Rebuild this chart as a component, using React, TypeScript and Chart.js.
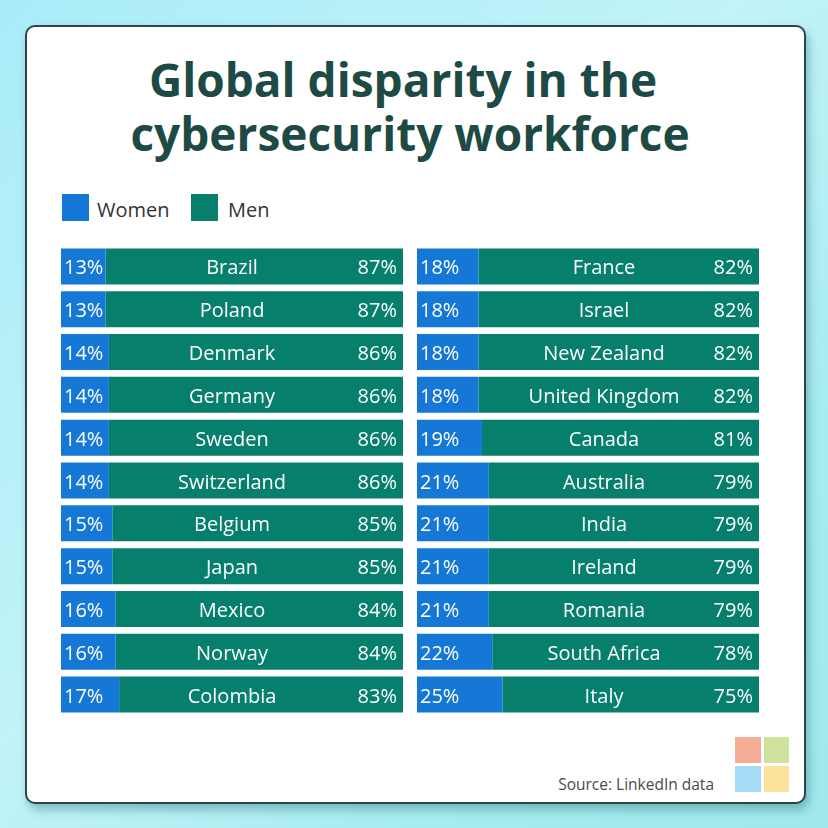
import React, { useEffect, useRef } from "react";
import { Chart, registerables } from "chart.js";

Chart.register(...registerables);

const leftCountries = ["Brazil", "Poland", "Denmark", "Germany", "Sweden", "Switzerland", "Belgium", "Japan", "Mexico", "Norway", "Colombia"];
const leftWomen = [13, 13, 14, 14, 14, 14, 15, 15, 16, 16, 17];
const leftMen = [87, 87, 86, 86, 86, 86, 85, 85, 84, 84, 83];

const rightCountries = ["France", "Israel", "New Zealand", "United Kingdom", "Canada", "Australia", "India", "Ireland", "Romania", "South Africa", "Italy"];
const rightWomen = [18, 18, 18, 18, 19, 21, 21, 21, 21, 22, 25];
const rightMen = [82, 82, 82, 82, 81, 79, 79, 79, 79, 78, 75];

const BLUE = "#1678d6";
const GREEN = "#077f6d";
const FONT = "'Open Sans', 'Noto Sans', sans-serif";

const makeLabelPlugin = (nameOffset: number) => ({
  id: "rowLabels",
  afterDatasetsDraw(chart: any) {
    const ctx = chart.ctx;
    const area = chart.chartArea;
    const labels = chart.data.labels as string[];
    const w = chart.data.datasets[0].data as number[];
    const m = chart.data.datasets[1].data as number[];
    const meta = chart.getDatasetMeta(0);
    ctx.save();
    ctx.fillStyle = "#ffffff";
    ctx.font = `20px ${FONT}`;
    ctx.textBaseline = "alphabetic";
    labels.forEach((name, i) => {
      const y = meta.data[i].y + 8;
      ctx.textAlign = "left";
      ctx.fillText(`${w[i]}%`, area.left + 3, y);
      ctx.textAlign = "center";
      ctx.fillText(name, (area.left + area.right) / 2 + nameOffset, y);
      ctx.textAlign = "right";
      ctx.fillText(`${m[i]}%`, area.right - 6, y);
    });
    ctx.restore();
  },
});

function BarBlock({ countries, women, men, left, nameOffset }: { countries: string[]; women: number[]; men: number[]; left: number; nameOffset: number }) {
  const ref = useRef<HTMLCanvasElement>(null);
  useEffect(() => {
    if (!ref.current) return;
    const chart = new Chart(ref.current, {
      type: "bar",
      data: {
        labels: countries,
        datasets: [
          { label: "Women", data: women, backgroundColor: BLUE, borderWidth: 0, barPercentage: 36 / 42.8, categoryPercentage: 1 },
          { label: "Men", data: men, backgroundColor: GREEN, borderWidth: 0, barPercentage: 36 / 42.8, categoryPercentage: 1 },
        ],
      },
      options: {
        indexAxis: "y",
        animation: false,
        responsive: false,
        maintainAspectRatio: false,
        devicePixelRatio: 1,
        layout: { padding: 0 },
        scales: {
          x: { stacked: true, min: 0, max: 100, display: false },
          y: { stacked: true, display: false },
        },
        plugins: { legend: { display: false }, tooltip: { enabled: false } },
      },
      plugins: [makeLabelPlugin(nameOffset)],
    } as any);
    return () => chart.destroy();
  }, []);
  return (
    <canvas
      ref={ref}
      width={342}
      height={471}
      style={{ position: "absolute", left, top: 245, width: 342, height: 471 }}
    />
  );
}

export default function App() {
  return (
    <div
      style={{
        position: "fixed",
        left: 0,
        top: 0,
        width: 828,
        height: 828,
        overflow: "hidden",
        background: "linear-gradient(135deg, #a9ecf8 0%, #c2f3f8 45%, #a6ecf0 75%, #9fe8ec 100%)",
        fontFamily: FONT,
      }}
    >
      <div
        style={{
          position: "absolute",
          left: 25,
          top: 25,
          width: 781,
          height: 779,
          boxSizing: "border-box",
          border: "2px solid #2b4648",
          borderRadius: 10,
          background: "#ffffff",
          boxShadow: "3px 6px 10px rgba(20,90,100,0.35)",
        }}
      />
      <div style={{ position: "absolute", left: 0, width: 806, top: 56, fontSize: 46, lineHeight: "46px", fontWeight: 700, color: "#1e4a45", textAlign: "center", whiteSpace: "nowrap" }}>
        Global disparity in the
      </div>
      <div style={{ position: "absolute", left: 0, width: 820, top: 110, fontSize: 46, lineHeight: "46px", fontWeight: 700, color: "#1e4a45", textAlign: "center", whiteSpace: "nowrap" }}>
        cybersecurity workforce
      </div>

      <div style={{ position: "absolute", left: 62, top: 194, width: 27, height: 27, background: BLUE }} />
      <div style={{ position: "absolute", left: 97, top: 200, fontSize: 20, lineHeight: "20px", color: "#333333" }}>Women</div>
      <div style={{ position: "absolute", left: 191, top: 194, width: 27, height: 27, background: GREEN }} />
      <div style={{ position: "absolute", left: 228, top: 200, fontSize: 20, lineHeight: "20px", color: "#333333" }}>Men</div>

      <BarBlock countries={leftCountries} women={leftWomen} men={leftMen} left={61} nameOffset={0} />
      <BarBlock countries={rightCountries} women={rightWomen} men={rightMen} left={417} nameOffset={16} />

      <div style={{ position: "absolute", right: 114, top: 776, fontSize: 15.5, lineHeight: "16px", color: "#4a4a4a", whiteSpace: "nowrap" }}>
        Source: LinkedIn data
      </div>

      <div style={{ position: "absolute", left: 735, top: 737, width: 26, height: 26, background: "#f5ad98" }} />
      <div style={{ position: "absolute", left: 764, top: 737, width: 25, height: 26, background: "#cde39b" }} />
      <div style={{ position: "absolute", left: 735, top: 766, width: 26, height: 26, background: "#a6dbf5" }} />
      <div style={{ position: "absolute", left: 764, top: 766, width: 25, height: 26, background: "#fde29b" }} />
    </div>
  );
}
